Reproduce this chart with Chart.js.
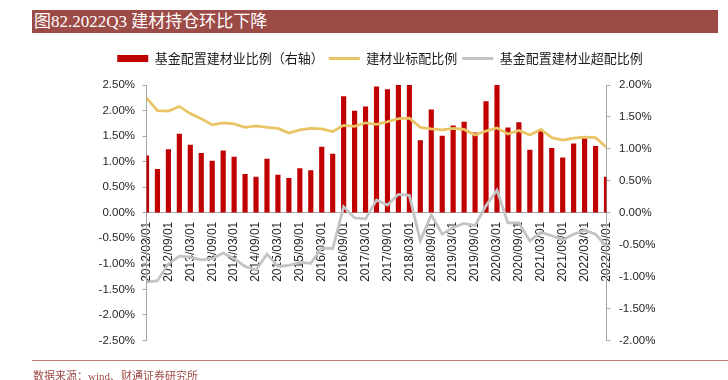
<!DOCTYPE html>
<html><head><meta charset="utf-8">
<script src="https://cdn.jsdelivr.net/npm/chart.js@4/dist/chart.umd.min.js"></script>
<style>
html,body{margin:0;padding:0;background:#fff;}
#wrap{position:relative;width:728px;height:380px;overflow:hidden;background:#fff;}
#c{position:absolute;left:0;top:0;}
#title{position:absolute;left:32px;top:10px;width:686px;height:23px;background:#9D4B47;color:#fff;font-family:'Liberation Serif','Noto Sans CJK SC',serif;font-size:17px;line-height:23px;padding-left:2px;box-sizing:border-box;white-space:nowrap;}
#rule{position:absolute;left:32px;top:360px;width:696px;height:1px;background:#C27C76;}
#src{position:absolute;left:33px;top:367px;font-family:'Liberation Serif','Noto Sans CJK SC',serif;font-size:11px;color:#9D4B47;white-space:nowrap;}
</style></head><body>
<div id="wrap"><canvas id="c" width="728" height="380"></canvas>
<div id="title">图82.2022Q3 建材持仓环比下降</div>
<div id="rule"></div>
<div id="src">数据来源：wind、财通证券研究所</div>
</div>
<script>
// Quarterly categories
const categories = [
 "2012/03/01","2012/06/01","2012/09/01","2012/12/01",
 "2013/03/01","2013/06/01","2013/09/01","2013/12/01",
 "2014/03/01","2014/06/01","2014/09/01","2014/12/01",
 "2015/03/01","2015/06/01","2015/09/01","2015/12/01",
 "2016/03/01","2016/06/01","2016/09/01","2016/12/01",
 "2017/03/01","2017/06/01","2017/09/01","2017/12/01",
 "2018/03/01","2018/06/01","2018/09/01","2018/12/01",
 "2019/03/01","2019/06/01","2019/09/01","2019/12/01",
 "2020/03/01","2020/06/01","2020/09/01","2020/12/01",
 "2021/03/01","2021/06/01","2021/09/01","2021/12/01",
 "2022/03/01","2022/06/01","2022/09/01"
];
// Tick labels shown on the category axis
const tickLabels = [
 "2012/03/01","2012/09/01","2013/03/01","2013/09/01","2014/03/01","2014/09/01",
 "2015/03/01","2015/09/01","2016/03/01","2016/09/01","2017/03/01","2017/09/01",
 "2018/03/01","2018/09/01","2019/03/01","2019/09/01","2020/03/01","2020/09/01",
 "2021/03/01","2021/09/01","2022/03/01","2022/09/01"
];
// 基金配置建材业比例（右轴）, %
const fundWeight = [
 0.89,0.68,0.99,1.23,1.06,0.93,0.81,0.97,0.87,0.60,0.56,
 0.84,0.59,0.54,0.69,0.66,1.03,0.92,1.82,1.59,1.66,
 1.97,1.93,2.20,2.19,1.13,1.61,1.20,1.36,1.42,1.25,1.74,
 2.10,1.33,1.41,0.98,1.28,1.01,0.86,1.08,1.16,1.04,0.56
];
// 建材业标配比例, %
const benchmarkWeight = [
 2.25,2.00,1.99,2.08,1.94,1.84,1.72,1.76,1.74,1.67,1.70,
 1.67,1.65,1.56,1.62,1.65,1.64,1.59,1.71,1.69,1.76,
 1.73,1.78,1.84,1.85,1.67,1.64,1.62,1.65,1.63,1.52,1.60,
 1.66,1.54,1.61,1.52,1.63,1.47,1.42,1.46,1.48,1.47,1.28
];
// 基金配置建材业超配比例, %
const overWeight = [
 -1.36,-1.33,-1.00,-0.85,-0.87,-0.92,-0.90,-0.79,-0.90,-1.05,-1.12,
 -0.81,-1.05,-1.03,-0.97,-0.99,-0.69,-0.70,0.12,-0.10,-0.12,
 0.25,0.15,0.36,0.34,-0.55,-0.04,-0.42,-0.29,-0.21,-0.25,0.14,
 0.44,-0.20,-0.20,-0.55,-0.38,-0.45,-0.53,-0.42,-0.34,-0.42,-0.66
];
const seriesNames = ["基金配置建材业比例（右轴）","建材业标配比例","基金配置建材业超配比例"];

const tickFont = {family:"'Liberation Sans', Arial, sans-serif", size:11.5};
const axisColor = '#A6A6A6';
const pct = v => Number(v).toFixed(2) + '%';

// adds extra room below the legend
const legendSpacer = {
  id:'legendSpacer',
  beforeUpdate(chart){
    const lg = chart.legend;
    if (lg && !lg._spaced){
      const orig = lg.fit;
      lg.fit = function(){ orig.call(this); this.height += 10; };
      lg._spaced = true;
    }
  }
};

new Chart(document.getElementById('c'), {
  data: {
    labels: categories,
    datasets: [
      {type:'bar', label:seriesNames[0], data:fundWeight, yAxisID:'y1', xAxisID:'x',
       backgroundColor:'#C00000', borderWidth:0, barThickness:4.5, order:3, clip:0},
      {type:'line', label:seriesNames[1], data:benchmarkWeight, yAxisID:'y', xAxisID:'x',
       borderColor:'#E8C464', backgroundColor:'#E8C464', borderWidth:2.75, pointRadius:0, tension:0, order:2, clip:0},
      {type:'line', label:seriesNames[2], data:overWeight, yAxisID:'y', xAxisID:'x',
       borderColor:'#C3C3C3', backgroundColor:'#C3C3C3', borderWidth:2.75, pointRadius:0, tension:0, order:1, clip:0}
    ]
  },
  plugins:[legendSpacer],
  options: {
    responsive:false, animation:false, devicePixelRatio:1,
    layout:{padding:{left:34, right:2, top:47, bottom:39.5}},
    plugins:{
      tooltip:{enabled:false},
      legend:{
        position:'top',
        labels:{
          font:{family:"'Noto Sans CJK SC', sans-serif", size:13},
          color:'#1a1a1a', usePointStyle:true, pointStyleWidth:31, boxHeight:7, padding:5,
          generateLabels:(chart)=>chart.data.datasets.map((ds,i)=>({
            text:ds.label,
            fillStyle: ds.type==='bar'?ds.backgroundColor:ds.borderColor,
            strokeStyle: ds.type==='bar'?ds.backgroundColor:ds.borderColor,
            lineWidth: ds.type==='bar'?0:3,
            pointStyle: ds.type==='bar'?'rect':'line',
            hidden:false, datasetIndex:i, fontColor:'#1a1a1a'
          }))
        }
      }
    },
    scales:{
      x:{type:'category', position:{y:0}, offset:false,
         grid:{display:false, drawTicks:false},
         border:{display:true, color:axisColor, width:1},
         ticks:{autoSkip:false, maxRotation:90, minRotation:90, padding:9, color:'#262626',
                font:{family:"'Liberation Sans', Arial, sans-serif", size:12},
                callback:function(v,i){const l=this.getLabelForValue(v);return tickLabels.includes(l)?l:'';}}},
      y:{type:'linear', position:'left', min:-2.5, max:2.5,
         afterFit:s=>{s.width=112.5;},
         grid:{display:true, drawOnChartArea:false, drawTicks:true, tickLength:4, color:axisColor},
         border:{display:true, color:axisColor, width:1},
         ticks:{stepSize:0.5, padding:7.5, color:'#262626', font:tickFont, callback:pct}},
      y1:{type:'linear', position:'right', min:-2, max:2,
         afterFit:s=>{s.width=119.5;},
         grid:{display:true, drawOnChartArea:false, drawTicks:true, tickLength:4, color:axisColor},
         border:{display:true, color:axisColor, width:1},
         ticks:{stepSize:0.5, padding:8.5, color:'#262626', font:tickFont, callback:pct}}
    }
  }
});
</script>
</body></html>
